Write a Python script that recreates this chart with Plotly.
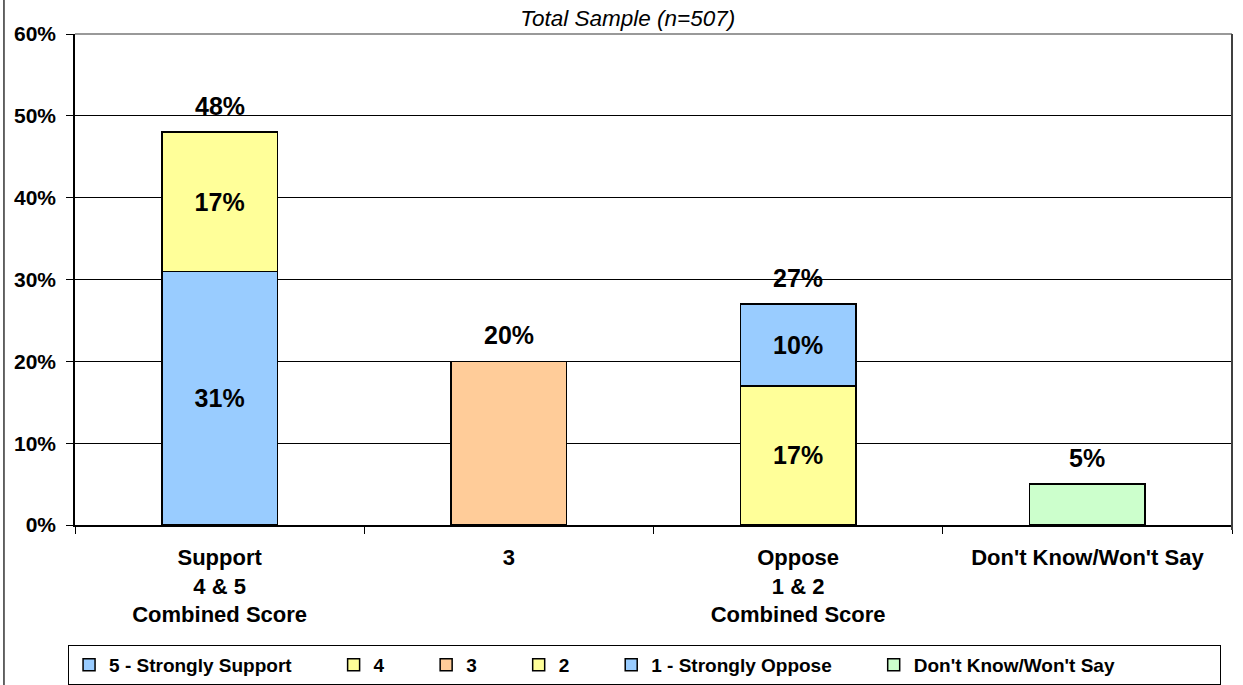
import plotly.graph_objects as go

# ---- data ----
categories = ["Support<br>4 & 5<br>Combined Score", "3",
              "Oppose<br>1 & 2<br>Combined Score", "Don't Know/Won't Say"]
series_names = ["5 - Strongly Support", "4", "3", "2", "1 - Strongly Oppose", "Don't Know/Won't Say"]
s5 = [31, None, None, None]
s4 = [17, None, None, None]
s3 = [None, 20, None, None]
s2 = [None, None, 17, None]
s1 = [None, None, 10, None]
sdk = [None, None, None, 5]
series_values = [s5, s4, s3, s2, s1, sdk]
colors = ["#99CCFF", "#FFFF99", "#FFCC99", "#FFFF99", "#99CCFF", "#CCFFCC"]
y_ticks = [0, 10, 20, 30, 40, 50, 60]

FONT = "Arial, 'Liberation Sans', sans-serif"

# segments per category (to decide inside labels)
seg_count = [sum(1 for s in series_values if s[i] is not None) for i in range(len(categories))]
totals = [sum(s[i] for s in series_values if s[i] is not None) for i in range(len(categories))]

fig = go.Figure()
n = len(series_names)
for k, (name, vals, col) in enumerate(zip(series_names, series_values, colors)):
    pad = "\u00a0" * (19 if k == n - 1 else 7)
    texts = [(f"{v}%" if (v is not None and seg_count[i] > 1) else "") for i, v in enumerate(vals)]
    fig.add_trace(go.Bar(
        x=list(range(len(categories))), y=vals, name=name + pad,
        marker=dict(color=col, line=dict(color="black", width=1.5)),
        text=texts, textposition="inside", insidetextanchor="middle",
        textfont=dict(family=FONT, size=25, color="black", weight="bold"),
        constraintext="none", cliponaxis=False,
    ))

for i, tot in enumerate(totals):
    fig.add_annotation(x=i, y=tot, text=f"{tot}%", showarrow=False,
                       yanchor="bottom", yshift=10,
                       font=dict(family=FONT, size=25, color="black", weight="bold"))

# frame lines
fig.add_shape(type="line", xref="paper", yref="paper", x0=0, x1=1, y0=1, y1=1,
              line=dict(color="#999999", width=2))
fig.add_shape(type="line", xref="paper", yref="paper", x0=1, x1=1, y0=-0.01, y1=1,
              line=dict(color="#404040", width=2))
fig.add_shape(type="line", xref="paper", yref="paper", x0=-0.0614, x1=-0.0614, y0=-0.33, y1=1.08,
              line=dict(color="#333333", width=1.5))

fig.update_layout(
    width=1243, height=685,
    margin=dict(l=75, r=11, t=34, b=160, autoexpand=False),
    paper_bgcolor="white", plot_bgcolor="white",
    barmode="stack", bargap=0.6,
    title=dict(text="<i>Total Sample (n=507)</i>", x=0.505, xanchor="center",
               y=1 - 18 / 685, yanchor="middle",
               font=dict(family=FONT, size=22.5, color="black")),
    xaxis=dict(type="linear", range=[-0.5, len(categories) - 0.5],
               tickvals=list(range(len(categories))), ticktext=categories,
               showline=True, linecolor="black", linewidth=1.5,
               ticks="", showgrid=False, zeroline=False,
               tickfont=dict(family=FONT, size=22, color="black", weight="bold"),
               ticklabelstandoff=12,
               minor=dict(tickvals=[i - 0.5 for i in range(len(categories) + 1)],
                          ticks="outside", ticklen=7, tickcolor="black", showgrid=False)),
    yaxis=dict(range=[0, 60], tickvals=y_ticks, ticktext=[f"{v}%" for v in y_ticks],
               showline=True, linecolor="black", linewidth=1.5,
               ticks="outside", ticklen=7, tickcolor="black",
               showgrid=True, gridcolor="black", gridwidth=1,
               tickfont=dict(family=FONT, size=21, color="black", weight="bold"),
               ticklabelstandoff=6, zeroline=False),
    legend=dict(orientation="h", x=-0.006, xanchor="left", y=(525 - 645) / 491, yanchor="top",
                bordercolor="black", borderwidth=1, bgcolor="white",
                font=dict(family=FONT, size=19, color="black", weight="bold"),
                traceorder="normal", itemwidth=30),
    showlegend=True,
)

fig.write_html("out.html", config={"displayModeBar": False},
               post_script="document.body.style.margin='0';")
